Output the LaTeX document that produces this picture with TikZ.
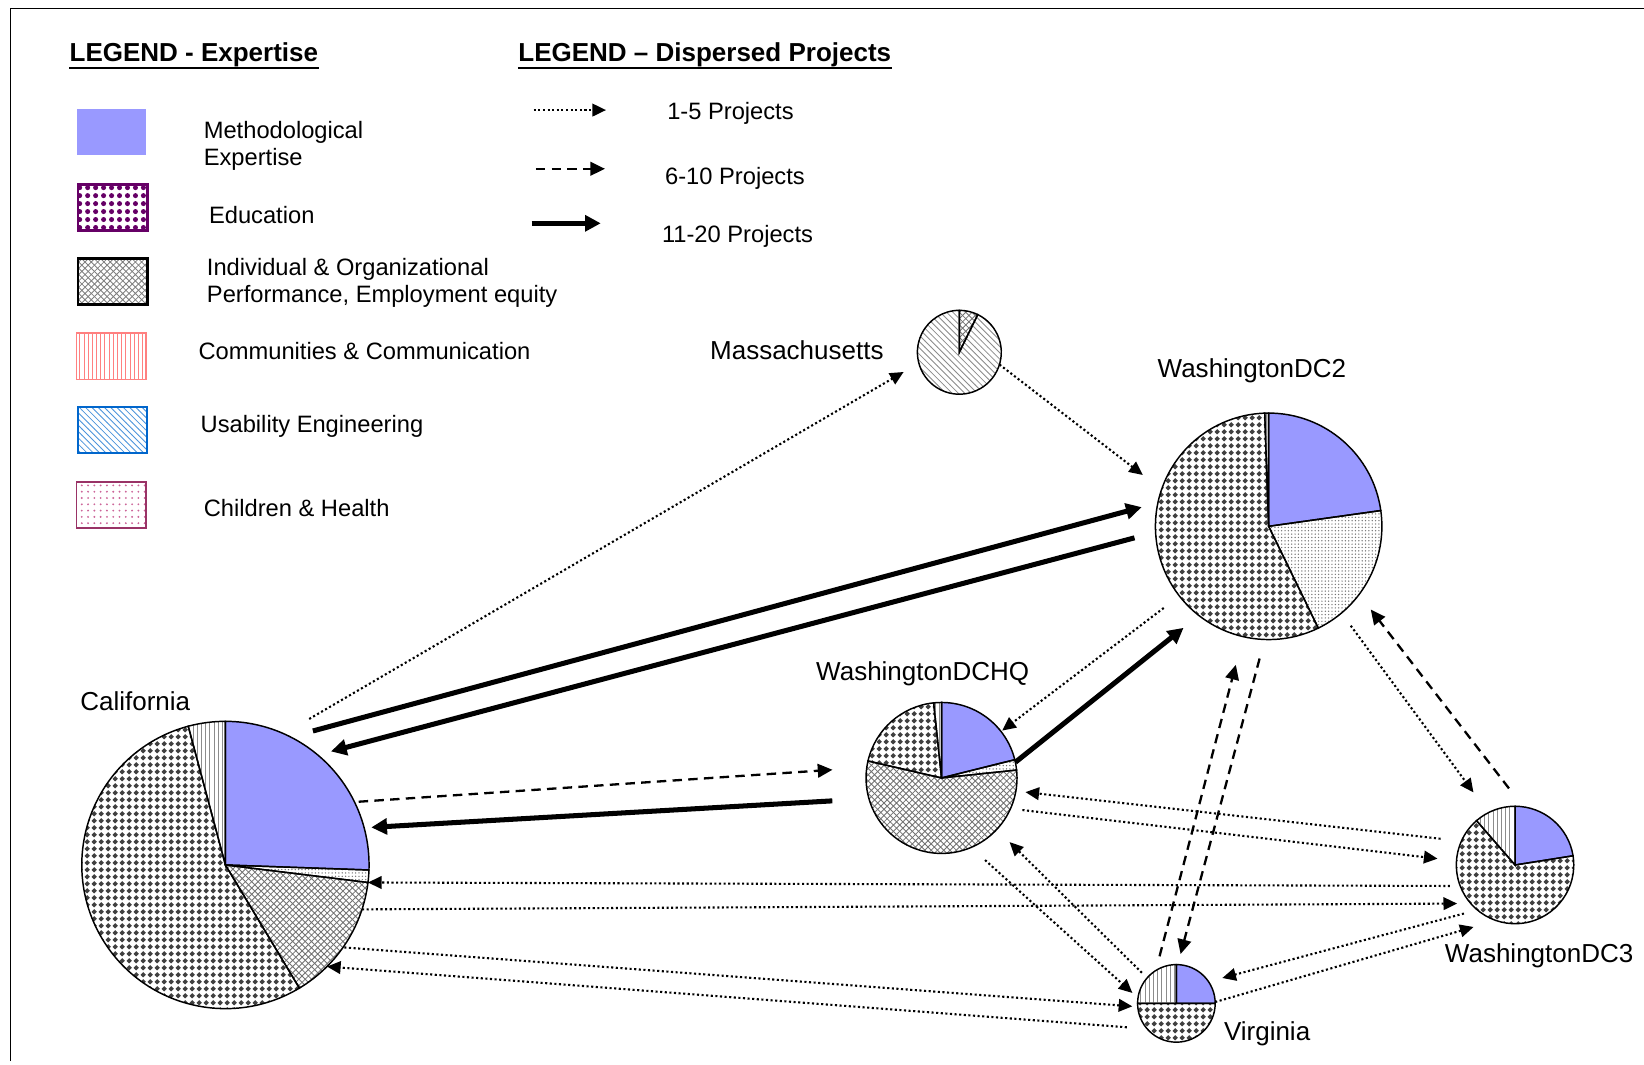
\documentclass[tikz,border=0pt]{standalone}
\usepackage{fontspec}
\setmainfont{Liberation Sans}
\usetikzlibrary{patterns,arrows.meta}

\definecolor{methblue}{RGB}{153,153,255}
\definecolor{edupurple}{RGB}{102,0,102}
\definecolor{commpink}{RGB}{255,128,128}
\definecolor{usabblue}{RGB}{0,102,204}
\definecolor{chilmauve}{RGB}{153,51,102}
\definecolor{chilpink}{RGB}{204,102,153}

\pgfdeclarepatternformonly{edudots}{\pgfqpoint{-1.6pt}{-1.6pt}}{\pgfqpoint{1.6pt}{1.6pt}}{\pgfqpoint{3.2pt}{3.2pt}}{%
	\pgfpathmoveto{\pgfqpoint{0pt}{1.35pt}}\pgfpathlineto{\pgfqpoint{1.35pt}{0pt}}%
	\pgfpathlineto{\pgfqpoint{0pt}{-1.35pt}}\pgfpathlineto{\pgfqpoint{-1.35pt}{0pt}}%
	\pgfpathclose\pgfusepath{fill}}
\pgfdeclarepatternformonly{bigdots}{\pgfqpoint{-1.9pt}{-1.9pt}}{\pgfqpoint{1.9pt}{1.9pt}}{\pgfqpoint{3.8pt}{3.8pt}}{%
	\pgfpathcircle{\pgfpointorigin}{1.2pt}\pgfusepath{fill}}
\pgfdeclarepatternformonly{finedots}{\pgfqpoint{-0.5pt}{-0.5pt}}{\pgfqpoint{0.5pt}{0.5pt}}{\pgfqpoint{1.6pt}{1.6pt}}{%
	\pgfpathcircle{\pgfpointorigin}{0.35pt}\pgfusepath{fill}}
\pgfdeclarepatternformonly{finevlines}{\pgfqpoint{-0.5pt}{0pt}}{\pgfqpoint{0.5pt}{2pt}}{\pgfqpoint{2pt}{2pt}}{%
	\pgfsetlinewidth{0.35pt}\pgfpathmoveto{\pgfqpoint{0pt}{0pt}}\pgfpathlineto{\pgfqpoint{0pt}{2pt}}\pgfusepath{stroke}}

\begin{document}
\begin{tikzpicture}[x=50pt, y=50pt,
	every node/.style={font=\fontsize{11.3}{13}\selectfont},
	placename/.style={font=\fontsize{12.4}{14}\selectfont, inner sep=0pt},
	legtitle/.style={font=\fontsize{12.4}{14}\selectfont\bfseries, anchor=base west, inner sep=0pt},
	legtext/.style={anchor=west, align=left, inner sep=0pt},
	swatch/.style={minimum width=33pt, minimum height=22pt, inner sep=0pt},
	pie/.style={circle, inner sep=0pt, outer sep=0pt, fill=white},
	slice/.style={draw=black, line width=0.7pt},
	meth/.style={fill=methblue},
	edu/.style={pattern=edudots, pattern color=black!75},
	indiv/.style={pattern=crosshatch, pattern color=black!55},
	comm/.style={pattern=finevlines, pattern color=black!45},
	usab/.style={pattern=north west lines, pattern color=black!45},
	chil/.style={pattern=finedots, pattern color=black!55},
	lowflow/.style={line width=1pt, dash pattern=on 1pt off 1.2pt, -{Triangle[length=6.5pt,width=6pt]}},
	midflow/.style={line width=1.1pt, dash pattern=on 4.5pt off 3pt, -{Triangle[length=7pt,width=6.5pt]}},
	highflow/.style={line width=2.4pt, -{Triangle[length=7.5pt,width=7.5pt]}}]

	\useasboundingbox (0,0) rectangle (15.68,10.15);
	\draw [line width=0.8pt] (0.10,0.03) -- (0.10,10.07) -- (15.68,10.07);

	% legend - expertise
	\node[legtitle] (hexp) at (0.66,9.56) {LEGEND - Expertise};
	\draw [line width=1.1pt] (hexp.south west) -- (hexp.south east);

	\node[swatch, fill=methblue] (kmeth) at (1.06,8.89) {};
	\node[swatch, draw=edupurple, line width=1.3pt, pattern=bigdots, pattern color=edupurple] (kedu) at (1.075,8.17) {};
	\node[swatch, draw=black, line width=1.2pt, pattern=crosshatch, pattern color=black!50] (kindiv) at (1.075,7.465) {};
	\node[swatch, draw=commpink, line width=0.9pt, pattern=finevlines, pattern color=commpink] (kcomm) at (1.06,6.75) {};
	\node[swatch, draw=usabblue, line width=1pt, pattern=north west lines, pattern color=usabblue!70] (kusab) at (1.075,6.05) {};
	\node[swatch, draw=chilmauve, line width=0.9pt, pattern=dots, pattern color=chilpink] (kchil) at (1.06,5.335) {};

	\node[legtext] (tmeth) at (1.94,8.76) {Methodological\\Expertise};
	\node[legtext] (tedu) at (1.99,8.10) {Education};
	\node[legtext] (tindiv) at (1.97,7.45) {Individual \& Organizational\\Performance, Employment equity};
	\node[legtext] (tcomm) at (1.89,6.80) {Communities \& Communication};
	\node[legtext] (tusab) at (1.91,6.08) {Usability Engineering};
	\node[legtext] (tchil) at (1.94,5.30) {Children \& Health};

	% legend - dispersed projects
	\node[legtitle] (hdisp) at (4.94,9.56) {LEGEND -- Dispersed Projects};
	\draw [line width=1.1pt] (hdisp.south west) -- (hdisp.south east);

	\coordinate (k1a) at (5.09,9.10);
	\coordinate (k1b) at (5.78,9.10);
	\coordinate (k2a) at (5.11,8.54);
	\coordinate (k2b) at (5.77,8.54);
	\coordinate (k3a) at (5.07,8.02);
	\coordinate (k3b) at (5.73,8.02);
	\path [lowflow] (k1a) edge (k1b);
	\path [midflow] (k2a) edge (k2b);
	\path [highflow] (k3a) edge (k3b);

	\node[legtext] (t1) at (6.36,9.07) {1-5 Projects};
	\node[legtext] (t2) at (6.34,8.45) {6-10 Projects};
	\node[legtext] (t3) at (6.31,7.90) {11-20 Projects};

	% sites
	\node[pie, minimum size=137pt] (ca) at (2.15,1.90) {};
	\node[pie, minimum size=40pt] (ma) at (9.15,6.79) {};
	\node[pie, minimum size=108pt] (dc2) at (12.10,5.13) {};
	\node[pie, minimum size=72pt] (dchq) at (8.98,2.73) {};
	\node[pie, minimum size=56pt] (dc3) at (14.45,1.90) {};
	\node[pie, minimum size=37pt] (va) at (11.22,0.58) {};

	\node[placename] (caname) at (1.29,3.46) {California};
	\node[placename] (maname) at (7.60,6.81) {Massachusetts};
	\node[placename] (dc2name) at (11.94,6.61) {WashingtonDC2};
	\node[placename] (dchqname) at (8.80,3.72) {WashingtonDCHQ};
	\node[placename] (dc3name) at (14.68,1.03) {WashingtonDC3};
	\node[placename, anchor=west] (vaname) at (11.67,0.29) {Virginia};

	% California
	\filldraw[slice, meth] (ca.center) -- ++(90:1.37) arc (90:-2:1.37) -- cycle;
	\filldraw[slice, chil] (ca.center) -- ++(-2:1.37) arc (-2:-7:1.37) -- cycle;
	\filldraw[slice, indiv] (ca.center) -- ++(-7:1.37) arc (-7:-59:1.37) -- cycle;
	\filldraw[slice, edu] (ca.center) -- ++(-59:1.37) arc (-59:-255:1.37) -- cycle;
	\filldraw[slice, comm] (ca.center) -- ++(-255:1.37) arc (-255:-270:1.37) -- cycle;

	% Massachusetts
	\filldraw[slice, indiv] (ma.center) -- ++(90:0.40) arc (90:64:0.40) -- cycle;
	\filldraw[slice, usab] (ma.center) -- ++(64:0.40) arc (64:-270:0.40) -- cycle;

	% WashingtonDC2
	\filldraw[slice, meth] (dc2.center) -- ++(90:1.08) arc (90:8:1.08) -- cycle;
	\filldraw[slice, chil] (dc2.center) -- ++(8:1.08) arc (8:-64:1.08) -- cycle;
	\filldraw[slice, edu] (dc2.center) -- ++(-64:1.08) arc (-64:-268:1.08) -- cycle;
	\filldraw[slice, comm] (dc2.center) -- ++(-268:1.08) arc (-268:-270:1.08) -- cycle;

	% WashingtonDCHQ
	\filldraw[slice, meth] (dchq.center) -- ++(90:0.72) arc (90:14:0.72) -- cycle;
	\filldraw[slice, chil] (dchq.center) -- ++(14:0.72) arc (14:6:0.72) -- cycle;
	\filldraw[slice, indiv] (dchq.center) -- ++(6:0.72) arc (6:-193:0.72) -- cycle;
	\filldraw[slice, edu] (dchq.center) -- ++(-193:0.72) arc (-193:-264:0.72) -- cycle;
	\filldraw[slice, comm] (dchq.center) -- ++(-264:0.72) arc (-264:-270:0.72) -- cycle;

	% WashingtonDC3
	\filldraw[slice, meth] (dc3.center) -- ++(90:0.56) arc (90:9:0.56) -- cycle;
	\filldraw[slice, edu] (dc3.center) -- ++(9:0.56) arc (9:-229:0.56) -- cycle;
	\filldraw[slice, comm] (dc3.center) -- ++(-229:0.56) arc (-229:-270:0.56) -- cycle;

	% Virginia
	\filldraw[slice, meth] (va.center) -- ++(90:0.37) arc (90:0:0.37) -- cycle;
	\filldraw[slice, edu] (va.center) -- ++(0:0.37) arc (0:-180:0.37) -- cycle;
	\filldraw[slice, comm] (va.center) -- ++(-180:0.37) arc (-180:-270:0.37) -- cycle;

	% projects between sites
	\path [lowflow] (ca.66) edge[shorten <=14pt, shorten >=8.4pt] (ma.195);
	\path [lowflow] (ma.343) edge[shorten >=11.3pt] (dc2.161);
	\path [highflow] (ca.63) edge[shorten <=11pt, shorten >=8pt] (dc2.168);
	\path [highflow] (dc2.183) edge[shorten <=10.4pt, shorten >=6.5pt] (ca.50);
	\path [midflow] (ca.26) edge[shorten <=2pt, shorten >=16.4pt] (dchq.172);
	\path [highflow] (dchq.196) edge[shorten <=17.5pt, shorten >=3.4pt] (ca.15);
	\path [lowflow] (dc2.218) edge[shorten <=9.4pt, shorten >=0.7pt] (dchq.38);
	\path [highflow] (dchq.12) edge[shorten >=9.4pt] (dc2.232);
	\path [midflow] (va.122) edge[shorten <=7pt, shorten >=13.9pt] (dc2.257);
	\path [midflow] (dc2.268) edge[shorten <=9.4pt, shorten >=5.2pt] (va.88);
	\path [lowflow] (dc2.310) edge[shorten <=7.5pt, shorten >=12pt] (dc3.117);
	\path [midflow] (dc3.82) edge[shorten <=11.1pt, shorten >=9.1pt] (dc2.323);
	\path [lowflow] (dc3.156) edge[shorten <=10pt, shorten >=4.6pt] (dchq.350);
	\path [lowflow] (dchq.336) edge[shorten <=5.7pt, shorten >=9.1pt] (dc3.176);
	\path [lowflow] (dc3.201) edge[shorten <=4.9pt] (ca.353);
	\path [lowflow] (ca.342) edge[shorten >=6.5pt] (dc3.221);
	\path [lowflow] (ca.325) edge[shorten <=0.6pt, shorten >=2.6pt] (va.185);
	\path [lowflow] (va.221) edge[shorten <=9.7pt] (ca.315);
	\path [lowflow] (dchq.293) edge[shorten <=9pt, shorten >=3.6pt] (va.172);
	\path [lowflow] (va.139) edge[shorten <=3.5pt, shorten >=8.6pt] (dchq.317);
	\path [lowflow] (dc3.230) edge[shorten <=6.6pt, shorten >=6.8pt] (va.34);
	\path [lowflow] (va.2) edge[shorten >=11.1pt] (dc3.251);
\end{tikzpicture}
\end{document}
